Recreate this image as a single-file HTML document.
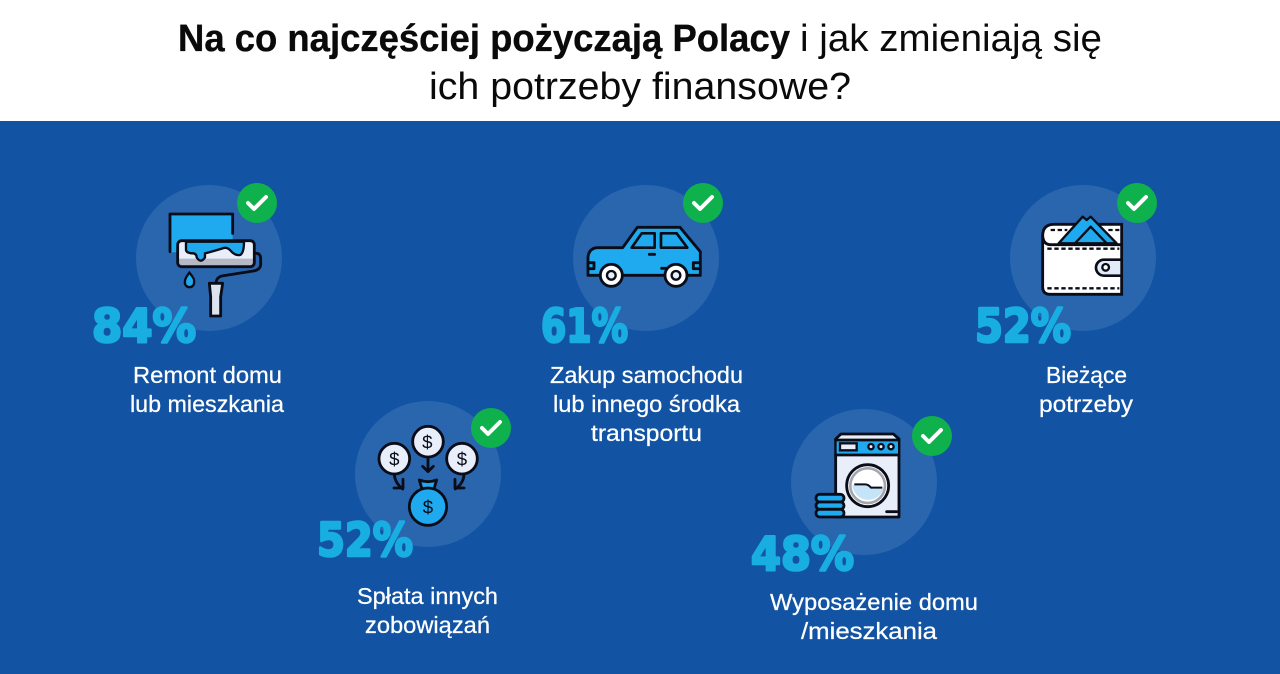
<!DOCTYPE html>
<html lang="pl">
<head>
<meta charset="utf-8">
<title>Na co najczęściej pożyczają Polacy</title>
<style>
html,body{margin:0;padding:0;background:#fff;}
svg{display:block;}
text{font-family:"Liberation Sans","Noto Sans CJK JP",sans-serif;}
.t{font-size:38px;fill:#0a0a0a;}
.b{stroke:#0a0a0a;stroke-width:.35;}
.l{font-size:23px;fill:#fff;stroke:#fff;stroke-width:.25;}
.p{font-family:"DejaVu Sans","Liberation Sans",sans-serif;font-size:46px;font-weight:700;fill:#18aee2;stroke:#18aee2;stroke-width:2.6;stroke-linejoin:round;}
.k{fill:none;stroke:#0a0d18;stroke-width:8.5;stroke-linecap:round;stroke-linejoin:round;}
.d{font-size:56px;fill:#0a0d18;text-anchor:middle;}
</style>
</head>
<body>
<svg width="1280" height="674" viewBox="0 0 1280 674" xmlns="http://www.w3.org/2000/svg">
  <rect width="1280" height="121" fill="#fff"/>
  <rect y="121" width="1280" height="553" fill="#1254a3"/>

  <g>
    <text class="t b" x="178" y="51" font-weight="700" textLength="612" lengthAdjust="spacingAndGlyphs">Na co najczęściej pożyczają Polacy</text>
    <text class="t" x="800" y="51" textLength="302" lengthAdjust="spacingAndGlyphs">i jak zmieniają się</text>
    <text class="t" x="429" y="99" textLength="422" lengthAdjust="spacingAndGlyphs">ich potrzeby finansowe?</text>
  </g>

  <g fill="#2a66ae">
    <circle cx="209" cy="258" r="73"/>
    <circle cx="646" cy="258" r="73"/>
    <circle cx="1083" cy="258" r="73"/>
    <circle cx="428" cy="474" r="73"/>
    <circle cx="864" cy="482" r="73"/>
  </g>

  <!-- paint roller -->
  <g transform="translate(80,170) scale(.3333)">
    <rect x="270" y="132" width="188" height="115" fill="#1fa9ee"/>
    <path class="k" d="M458,190V132H270V245"/>
    <rect x="293" y="212" width="230" height="78" rx="12" fill="#e8effa"/>
    <path d="M296,266H520V278Q520,288 510,288H306Q296,288 296,278Z" fill="#b5b9c6"/>
    <path d="M318,215V240Q320,250 340,250Q350,252 350,262Q362,282 375,262V250Q395,245 428,235Q440,230 450,240Q465,258 480,255Q492,250 492,215Z" fill="#1fa9ee" stroke="#0a0d18" stroke-width="7"/>
    <rect class="k" x="293" y="212" width="230" height="78" rx="12"/>
    <path class="k" d="M523,250H530Q542,252 542,265V285Q540,300 520,303L425,318Q410,322 408,338"/>
    <path d="M388,340H428L422,380V438H392V380Z" fill="#dde3ee" stroke="#0a0d18" stroke-width="8.5" stroke-linejoin="round"/>
    <path d="M328,308Q345,328 342,334A14,14 0 1 1 315,334Q314,326 328,308Z" fill="#1fa9ee" stroke="#0a0d18" stroke-width="7"/>
  </g>

  <!-- car -->
  <g transform="translate(530,170) scale(.3333)">
    <path d="M174,262Q176,236 200,233H278L322,172H450L511,245V316H174Z" fill="#1fa9ee" stroke="#0a0d18" stroke-width="8.5" stroke-linejoin="round"/>
    <path d="M305,233L335,190H374V233Z M393,190H440L472,233H393Z" fill="#1fa9ee" stroke="#0a0d18" stroke-width="8" stroke-linejoin="round"/>
    <path class="k" d="M358,253H374 M395,295H460 M175,278H192V296H175 M510,278H490V296H510"/>
    <circle cx="244" cy="316" r="33" fill="#fff" stroke="#0a0d18" stroke-width="8.5"/>
    <circle cx="244" cy="316" r="13" fill="#e8effa" stroke="#0a0d18" stroke-width="7"/>
    <circle cx="438" cy="316" r="33" fill="#fff" stroke="#0a0d18" stroke-width="8.5"/>
    <circle cx="438" cy="316" r="13" fill="#e8effa" stroke="#0a0d18" stroke-width="7"/>
  </g>

  <!-- wallet -->
  <g transform="translate(960,170) scale(.3333)">
    <path d="M485,163H282Q248,163 248,198V350Q248,373 270,373H485Z" fill="#fff" stroke="#0a0d18" stroke-width="8.5"/>
    <path d="M296,220L368,140L380,150L392,140L470,220Z" fill="#1fa9ee" stroke="#0a0d18" stroke-width="7" stroke-linejoin="round"/>
    <path d="M345,220L392,170L440,220Z" fill="#1fa9ee" stroke="#0a0d18" stroke-width="7" stroke-linejoin="round"/>
    <path class="k" d="M248,198Q250,224 272,224H485"/>
    <path d="M262,236H478 M262,355H478 M272,180H322 M445,180H478" fill="none" stroke="#0a0d18" stroke-width="7" stroke-dasharray="13 8"/>
    <path d="M485,269H432A24,24 0 0 0 432,317H485Z" fill="#e3ebf8" stroke="#0a0d18" stroke-width="8"/>
    <circle cx="437" cy="292" r="10" fill="#fff" stroke="#0a0d18" stroke-width="7"/>
  </g>

  <!-- money bag -->
  <g transform="translate(310,395) scale(.3333)">
    <g fill="#e8effa" stroke="#0a0d18" stroke-width="8.5">
      <circle cx="253" cy="191" r="46"/>
      <circle cx="354" cy="140" r="46"/>
      <circle cx="456" cy="191" r="46"/>
    </g>
    <text class="d" x="253" y="211">$</text>
    <text class="d" x="352" y="161">$</text>
    <text class="d" x="456" y="211">$</text>
    <path class="k" d="M354,188V228 M338,214L354,230L370,214 M253,240Q256,265 278,282 M252,279H279V253 M462,240Q460,265 436,282 M462,279H435V253"/>
    <path d="M328,255Q354,265 380,255L372,282H336Z" fill="#1fa9ee" stroke="#0a0d18" stroke-width="8.5" stroke-linejoin="round"/>
    <circle cx="354" cy="335" r="56" fill="#1fa9ee" stroke="#0a0d18" stroke-width="8.5"/>
    <text class="d" x="354" y="355">$</text>
  </g>

  <!-- washing machine -->
  <g transform="translate(745,405) scale(.3333)">
    <path d="M272,102L288,87H445L462,102V336H272Z" fill="#e8effa" stroke="#0a0d18" stroke-width="8.5" stroke-linejoin="round"/>
    <rect x="275" y="108" width="184" height="40" fill="#1fa9ee"/>
    <path class="k" d="M272,105H462 M272,150H462 M425,320H455"/>
    <rect x="285" y="115" width="50" height="21" fill="#e8effa" stroke="#0a0d18" stroke-width="7"/>
    <g fill="#e8effa" stroke="#0a0d18" stroke-width="7">
      <circle cx="378" cy="125" r="8"/>
      <circle cx="408" cy="125" r="8"/>
      <circle cx="438" cy="125" r="8"/>
    </g>
    <circle cx="368" cy="242" r="63" fill="#fff" stroke="#0a0d18" stroke-width="8.5"/>
    <path d="M322,240H360Q370,240 378,250H416A48,48 0 0 1 322,240Z" fill="#c6e4f8"/>
    <circle cx="368" cy="242" r="52" fill="none" stroke="#a4a7b0" stroke-width="8"/>
    <path d="M328,238H360Q370,238 378,248H412" fill="none" stroke="#0a0d18" stroke-width="6"/>
    <g fill="#1fa9ee" stroke="#0a0d18" stroke-width="8.5">
      <rect x="213" y="268" width="84" height="23" rx="11"/>
      <rect x="213" y="291" width="84" height="22" rx="11"/>
      <rect x="213" y="313" width="84" height="23" rx="11"/>
    </g>
  </g>

  <!-- check badges -->
  <g>
    <g transform="translate(257,203)"><circle r="20" fill="#0fb14c"/><path d="M-9,0L-3,6L9,-6" fill="none" stroke="#fff" stroke-width="4" stroke-linecap="round" stroke-linejoin="round"/></g>
    <g transform="translate(703,203)"><circle r="20" fill="#0fb14c"/><path d="M-9,0L-3,6L9,-6" fill="none" stroke="#fff" stroke-width="4" stroke-linecap="round" stroke-linejoin="round"/></g>
    <g transform="translate(1137,203)"><circle r="20" fill="#0fb14c"/><path d="M-9,0L-3,6L9,-6" fill="none" stroke="#fff" stroke-width="4" stroke-linecap="round" stroke-linejoin="round"/></g>
    <g transform="translate(491,428)"><circle r="20" fill="#0fb14c"/><path d="M-9,0L-3,6L9,-6" fill="none" stroke="#fff" stroke-width="4" stroke-linecap="round" stroke-linejoin="round"/></g>
    <g transform="translate(932,436)"><circle r="20" fill="#0fb14c"/><path d="M-9,0L-3,6L9,-6" fill="none" stroke="#fff" stroke-width="4" stroke-linecap="round" stroke-linejoin="round"/></g>
  </g>

  <!-- percentages -->
  <text class="p" x="92" y="342" textLength="104" lengthAdjust="spacingAndGlyphs">84%</text>
  <text class="p" x="541" y="342" textLength="87" lengthAdjust="spacingAndGlyphs">61%</text>
  <text class="p" x="975" y="342" textLength="96" lengthAdjust="spacingAndGlyphs">52%</text>
  <text class="p" x="317" y="556" textLength="96" lengthAdjust="spacingAndGlyphs">52%</text>
  <text class="p" x="751" y="570" textLength="103" lengthAdjust="spacingAndGlyphs">48%</text>

  <!-- labels -->
  <g>
    <text class="l" x="133" y="383" textLength="149" lengthAdjust="spacingAndGlyphs">Remont domu</text>
    <text class="l" x="130" y="412" textLength="154" lengthAdjust="spacingAndGlyphs">lub mieszkania</text>
  </g>
  <g>
    <text class="l" x="550" y="383" textLength="193" lengthAdjust="spacingAndGlyphs">Zakup samochodu</text>
    <text class="l" x="553" y="412" textLength="187" lengthAdjust="spacingAndGlyphs">lub innego środka</text>
    <text class="l" x="591" y="441" textLength="111" lengthAdjust="spacingAndGlyphs">transportu</text>
  </g>
  <g>
    <text class="l" x="1046" y="383" textLength="81" lengthAdjust="spacingAndGlyphs">Bieżące</text>
    <text class="l" x="1039" y="412" textLength="94" lengthAdjust="spacingAndGlyphs">potrzeby</text>
  </g>
  <g>
    <text class="l" x="357" y="604" textLength="141" lengthAdjust="spacingAndGlyphs">Spłata innych</text>
    <text class="l" x="365" y="633" textLength="125" lengthAdjust="spacingAndGlyphs">zobowiązań</text>
  </g>
  <g>
    <text class="l" x="770" y="610" textLength="208" lengthAdjust="spacingAndGlyphs">Wyposażenie domu</text>
    <text class="l" x="801" y="639" textLength="136" lengthAdjust="spacingAndGlyphs">/mieszkania</text>
  </g>
</svg>
</body>
</html>
